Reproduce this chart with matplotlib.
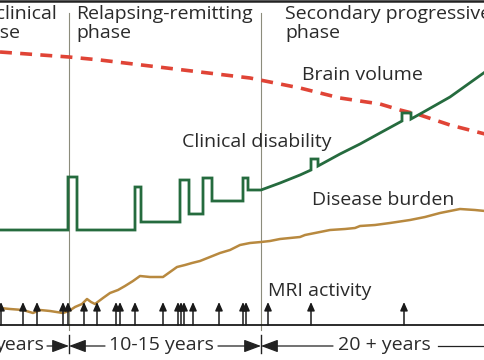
import matplotlib.pyplot as plt

# Schematic time axis (arbitrary units across the figure), level = height above bottom
phase_bounds = [69, 261]

disability_x = [0, 68, 68, 77, 77, 135, 135, 141, 141, 180, 180, 189, 189, 203, 203, 212, 212,
                243, 243, 248, 248, 261, 280, 300, 311, 311, 318, 318, 340, 360, 380, 402, 402,
                411, 411, 420, 450, 485]
disability_y = [130, 130, 183, 183, 130, 130, 173, 173, 138, 138, 180, 180, 146, 146, 182, 182, 159,
                159, 182, 182, 170, 170, 177, 185, 190, 201, 201, 194, 206, 216, 227, 239, 247,
                247, 241, 246, 263, 288]

brain_x = [0, 69, 100, 150, 200, 250, 300, 340, 380, 400, 420, 450, 485]
brain_y = [308, 303, 300, 294, 288, 282, 272, 262, 256, 250, 245, 235, 226]

burden_x = [0, 10, 23, 33, 40, 50, 63, 69, 75, 82, 87, 91, 95, 103, 110, 118, 125, 133, 140,
            150, 163, 170, 177, 185, 192, 200, 210, 220, 230, 240, 250, 261, 270, 280, 300,
            305, 315, 330, 345, 355, 360, 375, 390, 410, 425, 440, 450, 460, 475, 485]
burden_y = [52, 51, 50, 47, 50, 49, 47, 49, 53, 56, 61, 58, 56, 62, 67, 70, 74, 79, 84,
            83, 83, 88, 93, 95, 97, 99, 103, 107, 110, 115, 117, 118, 119, 121, 123,
            125, 127, 130, 131, 132, 134, 135, 137, 140, 143, 147, 149, 151, 150, 149]

mri_x = [1, 23, 37, 63, 68, 84, 97, 116, 120, 135, 163, 178, 181, 184, 193, 219, 243, 246,
         268, 311, 404]

phase_labels = [("Preclinical", "phase", -35), ("Relapsing-remitting", "phase", 76),
                ("Secondary progressive", "phase", 285)]
durations = [("years", 44), ("10-15 years", 161), ("20 + years", 384)]

GREEN = "#256b3e"
RED = "#e04436"
TAN = "#b8893f"
TEXT = "#2a2a2a"
FONT = "Open Sans"

fig = plt.figure(figsize=(4.85, 3.6), dpi=100)
ax = fig.add_axes([0, 0, 1, 1])
ax.set_xlim(0, 485)
ax.set_ylim(0, 360)
ax.axis("off")

# top rule and phase boundaries
ax.axhline(359.5, color="#222222", lw=1.8)
for xb in phase_bounds:
    ax.plot([xb, xb], [30, 347], color="#8c8c7c", lw=0.8, zorder=1)
    ax.plot([xb, xb], [7, 25], color="#222222", lw=1.0)

ax.plot(brain_x, brain_y, color=RED, lw=2.6, dashes=(3.3, 2.3), zorder=3)
ax.plot(disability_x, disability_y, color=GREEN, lw=2.0, solid_joinstyle="miter", zorder=4)
ax.plot(burden_x, burden_y, color=TAN, lw=1.8, zorder=3)

# MRI activity baseline and lesion arrows
ax.axhline(35, color="#1a1a1a", lw=1.3)
for xm in mri_x:
    ax.annotate("", xy=(xm, 58), xytext=(xm, 35),
                arrowprops=dict(arrowstyle="-|>,head_length=0.5,head_width=0.22",
                                color="#1a1a1a", lw=1.1, shrinkA=0, shrinkB=0,
                                mutation_scale=10))

# phase headings
for first, second, x0 in phase_labels:
    ax.text(x0, 341, first, fontsize=14, family=FONT, color=TEXT, va="baseline")
    ax.text(x0, 322, second, fontsize=14, family=FONT, color=TEXT, va="baseline")

# curve labels
ax.text(302, 280, "Brain volume", fontsize=14, family=FONT, color=TEXT, va="baseline")
ax.text(182, 213, "Clinical disability", fontsize=14, family=FONT, color=TEXT, va="baseline")
ax.text(312, 155, "Disease burden", fontsize=14, family=FONT, color=TEXT, va="baseline")
ax.text(268, 64, "MRI activity", fontsize=14, family=FONT, color=TEXT, va="baseline")

# duration arrows
ax.text(durations[0][1], 10, durations[0][0], fontsize=14, family=FONT, color=TEXT,
        va="baseline", ha="right")
for label, xc in durations[1:]:
    ax.text(xc, 10, label, fontsize=14, family=FONT, color=TEXT, va="baseline", ha="center")
arrow_y = 14
for x_from, x_to in [(47, 69), (105, 69), (218, 261), (333, 261)]:
    ax.annotate("", xy=(x_to, arrow_y), xytext=(x_from, arrow_y),
                arrowprops=dict(arrowstyle="-|>,head_length=0.8,head_width=0.3",
                                color="#222222", lw=0.9, shrinkA=0, shrinkB=0,
                                mutation_scale=13))
ax.plot([438, 485], [arrow_y, arrow_y], color="#222222", lw=0.9)

fig.savefig("out.png", dpi=100)
